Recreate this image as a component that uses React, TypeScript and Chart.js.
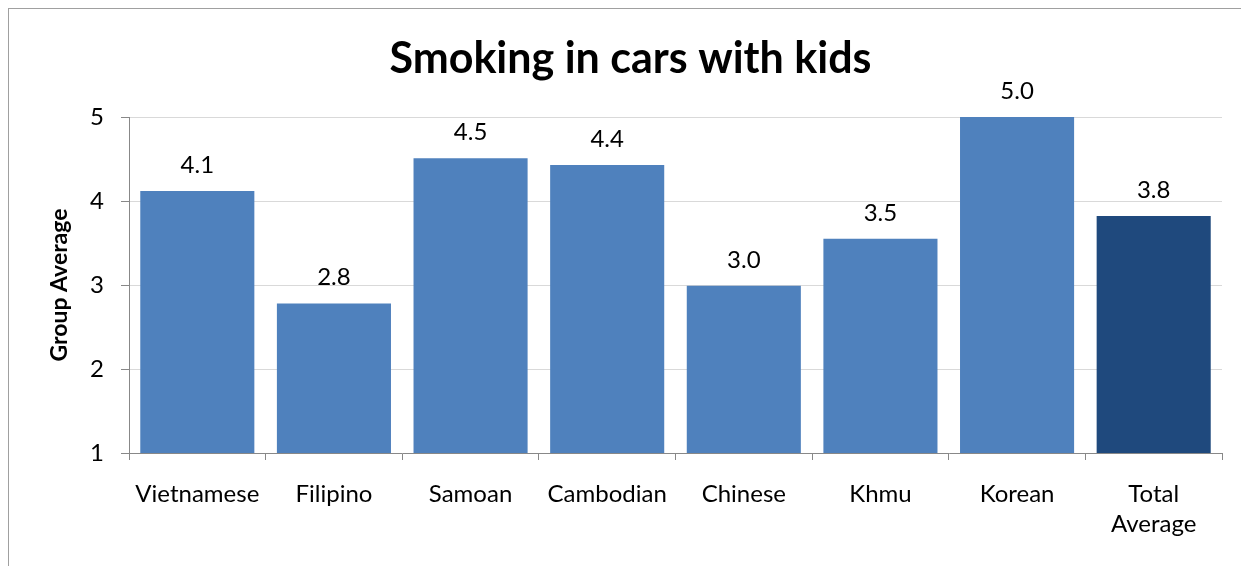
import React, { useEffect, useRef } from "react";
import { Chart, registerables } from "chart.js";

Chart.register(...registerables);

const titleText = "Smoking in cars with kids";
const yAxisTitle = "Group Average";
const categories: (string | string[])[] = [
  "Vietnamese",
  "Filipino",
  "Samoan",
  "Cambodian",
  "Chinese",
  "Khmu",
  "Korean",
  ["Total", "Average"],
];
const values = [4.12, 2.78, 4.51, 4.43, 2.99, 3.55, 5.0, 3.82];
const valueLabels = ["4.1", "2.8", "4.5", "4.4", "3.0", "3.5", "5.0", "3.8"];
const barColors = [
  "#4F81BD",
  "#4F81BD",
  "#4F81BD",
  "#4F81BD",
  "#4F81BD",
  "#4F81BD",
  "#4F81BD",
  "#1F497D",
];
const yMin = 1;
const yMax = 5;
const yStep = 1;

const FONT = "Lato, 'Noto Sans', sans-serif";

const dataLabelPlugin = {
  id: "dataLabels",
  afterDatasetsDraw(chart: any) {
    const ctx = chart.ctx;
    const meta = chart.getDatasetMeta(0);
    ctx.save();
    ctx.font = `24px ${FONT}`;
    ctx.fillStyle = "#000";
    ctx.textAlign = "center";
    ctx.textBaseline = "middle";
    meta.data.forEach((bar: any, i: number) => {
      ctx.fillText(valueLabels[i], bar.x, bar.y - 26);
    });
    ctx.restore();
  },
};

export default function App() {
  const canvasRef = useRef<HTMLCanvasElement | null>(null);

  useEffect(() => {
    document.documentElement.style.overflow = "hidden";
    const canvas = canvasRef.current;
    if (!canvas) return;
    const chart = new Chart(canvas, {
      type: "bar",
      data: {
        labels: categories,
        datasets: [
          {
            data: values,
            backgroundColor: barColors,
            borderWidth: 0,
            barPercentage: 0.835,
            categoryPercentage: 1,
          },
        ],
      },
      options: {
        animation: false,
        responsive: false,
        maintainAspectRatio: false,
        layout: { padding: { left: 30, right: 27, top: 0, bottom: 0 } },
        plugins: {
          legend: { display: false },
          tooltip: { enabled: false },
          title: {
            display: true,
            text: titleText,
            color: "#000",
            font: { family: FONT, size: 43, weight: "bold", lineHeight: 1.2 },
            padding: { top: 24, bottom: 32.4 },
          },
        },
        scales: {
          x: {
            grid: {
              display: true,
              drawOnChartArea: false,
              drawTicks: true,
              tickLength: 7,
              tickColor: "#888888",
              offset: true,
            },
            border: { display: true, color: "#888888", width: 1 },
            ticks: {
              color: "#000",
              font: { family: FONT, size: 24, lineHeight: 1.22 },
              padding: 20,
              maxRotation: 0,
              autoSkip: false,
            },
            afterFit: (scale: any) => {
              scale.height = 113;
            },
          },
          y: {
            min: yMin,
            max: yMax,
            grid: {
              color: "#D9D9D9",
              tickColor: "#888888",
              tickLength: 8,
              drawTicks: true,
            },
            border: { display: true, color: "#888888", width: 1 },
            ticks: {
              stepSize: yStep,
              color: "#000",
              font: { family: FONT, size: 24 },
              padding: 17,
            },
            title: {
              display: true,
              text: yAxisTitle,
              color: "#000",
              font: { family: FONT, size: 23, weight: "bold", lineHeight: 1.2 },
              padding: { top: 7, bottom: 0 },
            },
            afterFit: (scale: any) => {
              scale.width = 90;
            },
          },
        },
      },
      plugins: [dataLabelPlugin],
    });
    return () => chart.destroy();
  }, []);

  return (
    <div
      style={{
        width: 1240,
        height: 557,
        borderLeft: "1px solid #A0A0A0",
        borderTop: "1px solid #A0A0A0",
        background: "#fff",
      }}
    >
      <canvas
        ref={canvasRef}
        width={1240}
        height={557}
        style={{ display: "block", width: 1240, height: 557 }}
      />
    </div>
  );
}
